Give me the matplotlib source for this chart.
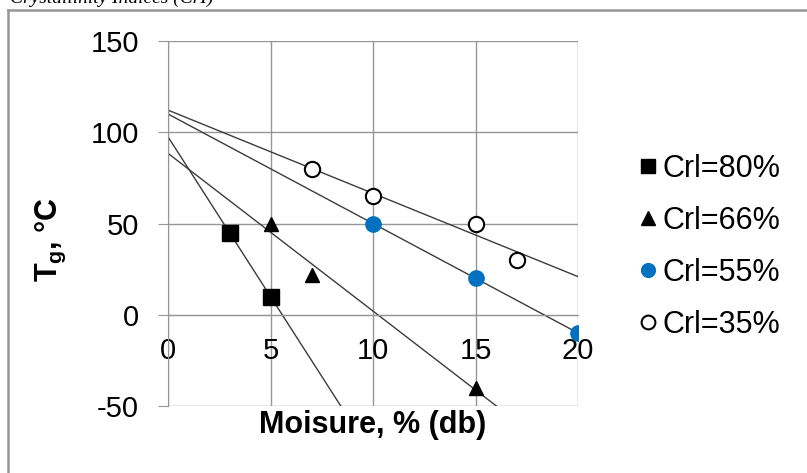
import numpy as np
import matplotlib
matplotlib.use("Agg")
import matplotlib.pyplot as plt
from matplotlib.lines import Line2D

plt.rcParams['font.family'] = ['Liberation Sans', 'DejaVu Sans']
plt.rcParams['mathtext.fontset'] = 'custom'
plt.rcParams['mathtext.bf'] = 'Liberation Sans:bold'
plt.rcParams['mathtext.rm'] = 'Liberation Sans'
plt.rcParams['axes.unicode_minus'] = False

# Tg vs moisture for four crystallinity levels
x_80 = [3, 5]
tg_80 = [45, 10]
x_66 = [5, 7, 15]
tg_66 = [50, 22, -40]
x_55 = [10, 15, 20]
tg_55 = [50, 20, -10]
x_35 = [7, 10, 15, 17]
tg_35 = [80, 65, 50, 30]

labels = ["Crl=80%", "Crl=66%", "Crl=55%", "Crl=35%"]
x_ticks = [0, 5, 10, 15, 20]
y_ticks = [-50, 0, 50, 100, 150]

grey = "#969696"
blue = "#0070C0"

fig = plt.figure(figsize=(8.07, 4.73), dpi=100)
ax = fig.add_axes([168 / 807, 1 - 406 / 473, 410 / 807, 365 / 473])

# linear trendlines over the full moisture range
xx = np.array([0, 20])
for xs, ys in [(x_80, tg_80), (x_66, tg_66), (x_55, tg_55), (x_35, tg_35)]:
    k, b = np.polyfit(xs, ys, 1)
    ax.plot(xx, k * xx + b, color="#3c3c3c", lw=1, zorder=2)

ax.plot(x_80, tg_80, ls="none", marker="s", ms=11.5, color="black", label=labels[0], zorder=3)
ax.plot(x_66, tg_66, ls="none", marker="^", ms=10.5, color="black", label=labels[1], zorder=3)
ax.plot(x_55, tg_55, ls="none", marker="o", ms=11, color=blue, mec=blue, label=labels[2], zorder=3)
ax.plot(x_35, tg_35, ls="none", marker="o", ms=11, mfc="white", mec="black", mew=1.5, label=labels[3], zorder=3)

ax.set_xlim(0, 20)
ax.set_ylim(-50, 150)
ax.set_xticks(x_ticks)
ax.set_yticks(y_ticks)
ax.grid(True, color=grey, lw=1)
ax.set_axisbelow(True)

ax.spines['bottom'].set_position(('data', 0))
ax.spines['bottom'].set_color(grey)
ax.spines['left'].set_color(grey)
ax.spines['top'].set_visible(False)
ax.spines['right'].set_visible(False)
ax.tick_params(axis='x', length=0, pad=16, labelsize=21)
ax.tick_params(axis='y', length=7, color=grey, pad=14, labelsize=21)

ax.set_xlabel("Moisure, % (db)", fontsize=22, fontweight="bold")
ax.xaxis.set_label_coords(0.5, -0.01)
ax.set_ylabel(r"T$_\mathbf{g}$, °C", fontsize=22, fontweight="bold")
ax.yaxis.set_label_coords(-0.243, 0.455)

leg = ax.legend(loc="upper left", bbox_to_anchor=(640 / 807, 1 - 154 / 473),
                bbox_transform=fig.transFigure, frameon=False, fontsize=22,
                handlelength=0.5, handletextpad=0.25, borderpad=0,
                borderaxespad=0, labelspacing=0.72, markerscale=0.9)

# outer frame and the caption line above the chart
fig.add_artist(Line2D([8 / 807, 8 / 807], [0, 1 - 10 / 473], color=grey, lw=1.8))
fig.add_artist(Line2D([8 / 807, 1], [1 - 10 / 473, 1 - 10 / 473], color=grey, lw=1.8))
fig.text(10 / 807, 1 - 3 / 473, "Crystallinity Indices (CrI)", family="Liberation Serif",
         fontstyle="italic", fontsize=14, va="baseline")

fig.savefig("out.png", dpi=100)
